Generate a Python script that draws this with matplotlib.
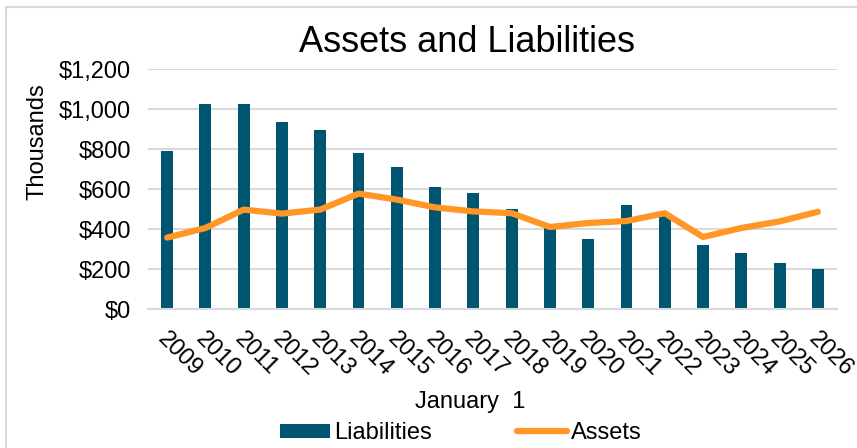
import matplotlib.pyplot as plt
import matplotlib.transforms as mtransforms
from matplotlib.patches import Rectangle
from matplotlib.ticker import FuncFormatter

plt.rcParams['font.family'] = ['Liberation Sans', 'DejaVu Sans']

years = [str(y) for y in range(2009, 2027)]
liabilities = [790, 1025, 1025, 935, 895, 778, 708, 608, 578, 498,
               408, 350, 518, 478, 322, 282, 232, 202]
assets = [357, 405, 497, 477, 497, 577, 547, 508, 488, 479,
          410, 430, 440, 479, 360, 405, 438, 486]

BAR_COLOR = "#005670"
LINE_COLOR = "#FF9626"
GRID_COLOR = "#D9D9D9"

fig = plt.figure(figsize=(8.57, 4.48), dpi=100)
ax = fig.add_axes([148 / 857, 1 - 309 / 448, 689 / 857, 240 / 448])

x = list(range(len(years)))
bars = ax.bar(x, liabilities, width=0.31, color=BAR_COLOR, label="Liabilities", zorder=2)
line, = ax.plot(x, assets, color=LINE_COLOR, lw=4.5, solid_capstyle="round",
                solid_joinstyle="round", label="Assets", zorder=3)

ax.set_xlim(-0.5, len(years) - 0.5)
ax.set_ylim(0, 1200)
ax.set_yticks(range(0, 1201, 200))
ax.yaxis.set_major_formatter(FuncFormatter(lambda v, p: f"${v:,.0f}"))
ax.grid(axis="y", color=GRID_COLOR, lw=1.5, zorder=0)
ax.set_axisbelow(True)

for side in ["top", "right", "left"]:
    ax.spines[side].set_visible(False)
ax.spines["bottom"].set_color(GRID_COLOR)
ax.spines["bottom"].set_linewidth(1.5)
ax.tick_params(axis="both", length=0, labelsize=17, colors="black")
ax.tick_params(axis="y", pad=12)

ax.set_xticks(x)
ax.set_xticklabels(years, rotation=-45, ha="left", va="center",
                   rotation_mode="anchor")
shift = mtransforms.ScaledTranslation(-6 / 100, -22 / 100, fig.dpi_scale_trans)
for lbl in ax.get_xticklabels():
    lbl.set_transform(lbl.get_transform() + shift)

fig.text(467 / 857, 1 - 42 / 448, "Assets and Liabilities", fontsize=26,
         ha="center", va="center")
ax.set_xlabel("January  1", fontsize=17)
ax.xaxis.set_label_coords(0.467, -0.34)
ax.set_ylabel("Thousands", fontsize=17)
ax.yaxis.set_label_coords(-0.145, 0.696)

fig.legend([bars, line], ["Liabilities", "Assets"], loc="center",
           bbox_to_anchor=(461 / 857, 1 - 433 / 448), ncol=2,
           frameon=False, fontsize=17, handlelength=2.1, handleheight=0.55,
           handletextpad=0.2, columnspacing=3.6, borderaxespad=0)

fig.patches.append(Rectangle((6 / 857, -0.1), 1.2, 1 - 7 / 448 + 0.1,
                             transform=fig.transFigure, fill=False,
                             edgecolor=GRID_COLOR, lw=1.5))

fig.savefig("out.png", dpi=100)
plt.close(fig)
